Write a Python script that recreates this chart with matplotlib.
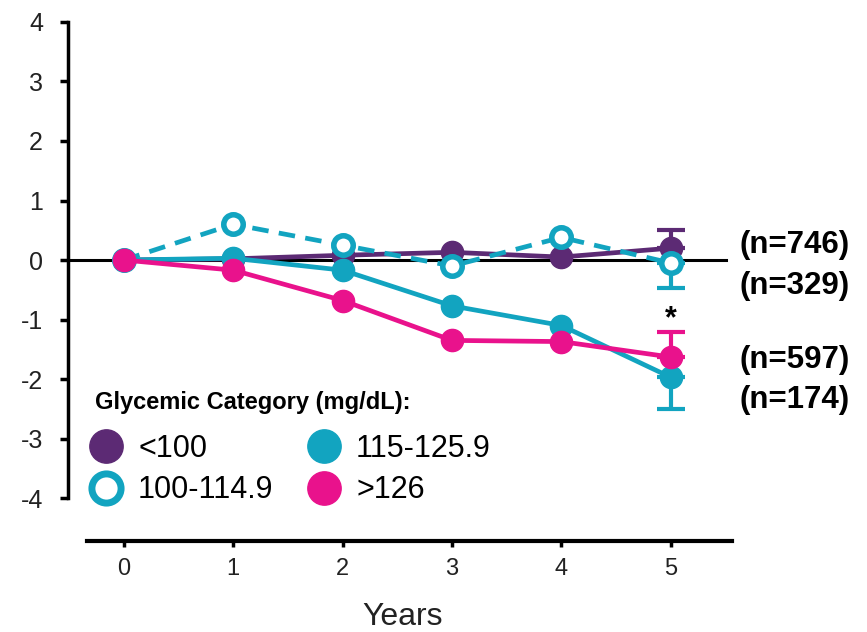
import matplotlib
matplotlib.use("Agg")
import matplotlib.pyplot as plt
from matplotlib.lines import Line2D

plt.rcParams['font.family'] = ['Liberation Sans', 'DejaVu Sans']
plt.rcParams['axes.unicode_minus'] = False

years = [0, 1, 2, 3, 4, 5]
categories = ["<100", "100-114.9", "115-125.9", ">126"]
vals_lt100 = [0.0, 0.02, 0.08, 0.13, 0.05, 0.20]
vals_100_114 = [0.0, 0.60, 0.25, -0.10, 0.38, -0.05]
vals_115_125 = [0.0, 0.03, -0.17, -0.77, -1.10, -1.97]
vals_gt126 = [0.0, -0.17, -0.68, -1.35, -1.37, -1.63]
# error bars at year 5 (one-sided, as drawn)
err_lt100 = 0.30      # upper
err_100_114 = 0.42    # lower
err_115_125 = 0.53    # lower
err_gt126 = 0.42      # upper
n_labels = ["(n=746)", "(n=329)", "(n=597)", "(n=174)"]
n_label_y = [0.25, -0.43, -1.68, -2.35]
yticks = [-4, -3, -2, -1, 0, 1, 2, 3, 4]

purple = "#5C2A74"
cyan = "#12A4C0"
magenta = "#E9128C"

fig = plt.figure(figsize=(8.67, 6.32), dpi=100)
ax = fig.add_axes([0.0784, 0.144, 0.771, 0.826])
ax.set_xlim(-0.51, 5.6)
ax.set_ylim(-4.72, 4.05)

ax.axhline(0, xmin=0, xmax=0.985, color="black", lw=2.2, zorder=1)

ms = 16
lw = 3.4
ax.plot(years, vals_lt100, color=purple, lw=lw, marker="o", ms=ms, zorder=3)
ax.errorbar([5], [vals_lt100[-1]], yerr=[[0], [err_lt100]], color=purple, lw=3,
            capsize=10, capthick=3, zorder=3)
ax.plot(years, vals_100_114, color=cyan, lw=lw, ls=(0, (3.5, 2.2)), marker="o", ms=ms - 2,
        mfc="white", mec=cyan, mew=4, zorder=4)
ax.errorbar([5], [vals_100_114[-1]], yerr=[[err_100_114], [0]], color=cyan, lw=3,
            capsize=10, capthick=3, zorder=3)
ax.plot(years, vals_115_125, color=cyan, lw=lw, marker="o", ms=ms, zorder=5)
ax.errorbar([5], [vals_115_125[-1]], yerr=[[err_115_125], [0]], color=cyan, lw=3,
            capsize=10, capthick=3, zorder=5)
ax.plot(years, vals_gt126, color=magenta, lw=lw, marker="o", ms=ms, zorder=6)
ax.errorbar([5], [vals_gt126[-1]], yerr=[[0], [err_gt126]], color=magenta, lw=3,
            capsize=10, capthick=3, zorder=6)

ax.text(5, -1.0, "*", ha="center", va="center", fontsize=22, fontweight="bold")

for lab, yy in zip(n_labels, n_label_y):
    ax.text(5.63, yy, lab, ha="left", va="center", fontsize=22.5, fontweight="bold",
            clip_on=False)

# spines
for s in ["top", "right"]:
    ax.spines[s].set_visible(False)
ax.spines["left"].set_bounds(-4, 4)
ax.spines["left"].set_linewidth(2.5)
ax.spines["bottom"].set_bounds(-0.34, 5.56)
ax.spines["bottom"].set_linewidth(3)
ax.set_yticks(yticks)
ax.set_xticks(years)
ax.tick_params(axis="y", length=6, width=2.5, labelsize=18, labelcolor="#222222", pad=12)
ax.tick_params(axis="x", length=4, width=2.5, labelsize=17, labelcolor="#222222", pad=8)
ax.set_xlabel("Years", fontsize=23, color="#222222", labelpad=16)

ax.text(-0.265, -2.39, "Glycemic Category (mg/dL):", ha="left", va="center",
        fontsize=17, fontweight="bold")

handles = [
    Line2D([], [], ls="none", marker="o", ms=24, color=purple),
    Line2D([], [], ls="none", marker="o", ms=21, mfc="white", mec=cyan, mew=5),
    Line2D([], [], ls="none", marker="o", ms=24, color=cyan),
    Line2D([], [], ls="none", marker="o", ms=24, color=magenta),
]
leg = ax.legend(handles, categories, ncol=2, frameon=False, fontsize=22,
                loc="upper left", bbox_to_anchor=(-0.33, -2.92),
                bbox_transform=ax.transData,
                handletextpad=0.45, columnspacing=1.05, labelspacing=0.38,
                handlelength=1.2, borderaxespad=0, borderpad=0)

fig.savefig("out.png", dpi=100)
